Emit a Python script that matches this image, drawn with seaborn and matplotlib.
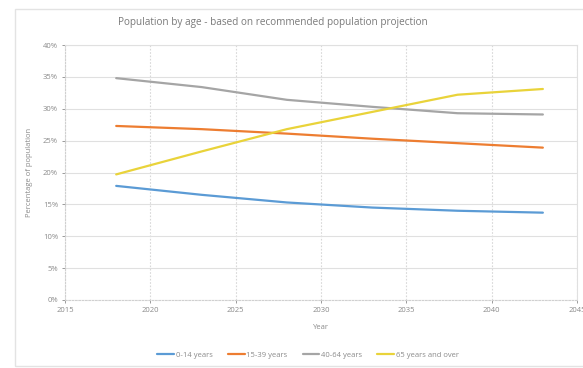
import matplotlib
matplotlib.use("Agg")
import matplotlib.pyplot as plt
from matplotlib.patches import Rectangle
from matplotlib.ticker import PercentFormatter, MultipleLocator
import seaborn as sns
import pandas as pd

# Projection years and share of population (%) per age group
years = [2018, 2023, 2028, 2033, 2038, 2043]
age_0_14 = [17.9, 16.5, 15.3, 14.5, 14.0, 13.7]
age_15_39 = [27.3, 26.8, 26.1, 25.3, 24.6, 23.9]
age_40_64 = [34.8, 33.4, 31.4, 30.3, 29.3, 29.1]
age_65_plus = [19.7, 23.3, 26.8, 29.5, 32.2, 33.1]

groups = ["0-14 years", "15-39 years", "40-64 years", "65 years and over"]
colors = ["#5B9BD5", "#ED7D31", "#A5A5A5", "#E9D33A"]

df = pd.DataFrame({
    "Year": years * 4,
    "Share": age_0_14 + age_15_39 + age_40_64 + age_65_plus,
    "Group": [g for g in groups for _ in years],
})

sns.set_theme(style="white")
plt.rcParams["font.family"] = ["Open Sans", "DejaVu Sans"]

fig = plt.figure(figsize=(5.83, 3.68), dpi=100)
ax = fig.add_axes([65 / 583, 1 - 300 / 368, 512 / 583, 255 / 368])

# Chart-area frame
fig.patches.append(Rectangle((15 / 583, 1 - 366 / 368), 1.0, 357 / 368,
                             transform=fig.transFigure, fill=False,
                             edgecolor="#E3E3E3", linewidth=1.0, zorder=0))

sns.lineplot(data=df, x="Year", y="Share", hue="Group", palette=colors,
             linewidth=1.6, ax=ax, legend=True)

ax.set_xlim(2015, 2045)
ax.set_ylim(0, 40)
ax.xaxis.set_major_locator(MultipleLocator(5))
ax.yaxis.set_major_locator(MultipleLocator(5))
ax.yaxis.set_major_formatter(PercentFormatter(decimals=0))

ax.grid(axis="y", color="#E0E0E0", linewidth=0.8)
ax.grid(axis="x", color="#D8D8D8", linewidth=0.8, linestyle=(0, (1.5, 1.5)))
ax.set_axisbelow(True)
for side in ["top", "right"]:
    ax.spines[side].set_visible(True)
    ax.spines[side].set_color("#E0E0E0")
    ax.spines[side].set_linewidth(0.8)
for side in ["left", "bottom"]:
    ax.spines[side].set_color("#D0D0D0")
    ax.spines[side].set_linewidth(0.8)
    ax.spines[side].set_linestyle((0, (1.5, 1.5)))

ax.tick_params(axis="both", labelsize=5.5, colors="#8A8A8A", length=2,
               width=0.6, pad=3)
ax.tick_params(axis="y", left=True)
ax.tick_params(axis="x", bottom=True)

ax.set_xlabel("Year", fontsize=5.5, color="#8A8A8A", labelpad=7)
ax.set_ylabel("Percentage of population", fontsize=5.5, color="#8A8A8A",
              labelpad=7)

fig.text(273 / 583, 1 - 22 / 368,
         "Population by age - based on recommended population projection",
         ha="center", va="center", fontsize=7.2, color="#7A7A7A")

handles, labels = ax.get_legend_handles_labels()
ax.legend(handles, labels, loc="center", bbox_to_anchor=(308 / 583, 1 - 355 / 368),
          bbox_transform=fig.transFigure, ncol=4, frameon=False,
          fontsize=5.5, labelcolor="#8A8A8A", handlelength=2.2,
          handletextpad=0.2, columnspacing=2.0)

fig.savefig("out.png", dpi=100)
